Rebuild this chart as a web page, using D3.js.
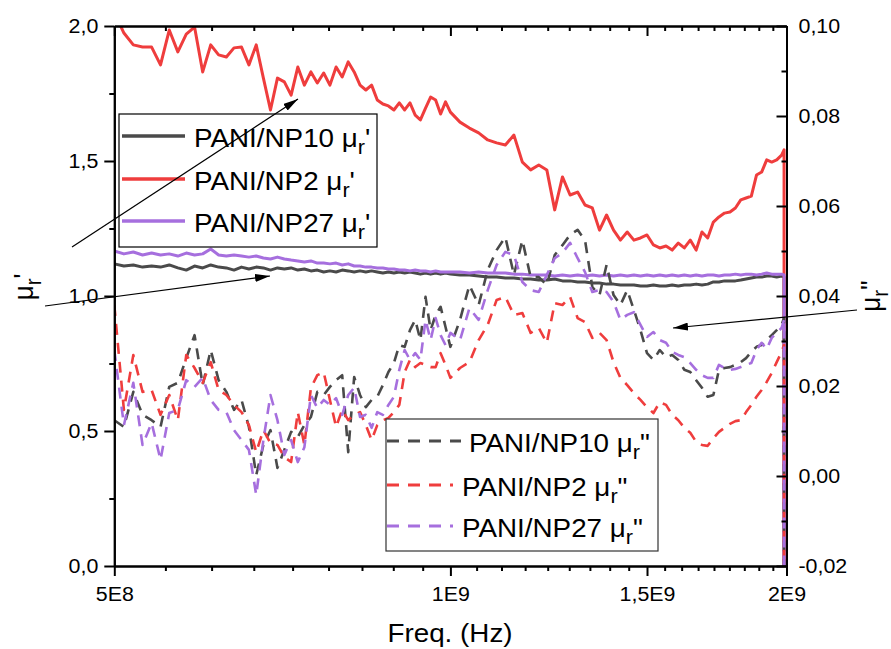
<!DOCTYPE html>
<html>
<head>
<meta charset="utf-8">
<script src="https://cdn.jsdelivr.net/npm/d3@7"></script>
<style>
  body { margin: 0; background: #fff; }
  svg text { font-family: Arial, "Liberation Sans", sans-serif; fill: #000; }
</style>
</head>
<body>
<svg id="chart" width="891" height="649"></svg>
<script>
// Frequency sweep (MHz). The last entry repeats the end frequency: the analyser's closing reading.
const freqMHz = [
  500,510,520,530,540,550,560,570,580,590,600,610,620,630,640,650,660,670,680,690,
  700,710,720,730,740,750,760,770,780,790,800,810,820,830,840,850,860,870,880,890,
  900,910,920,930,940,950,960,970,980,990,1000,
  1020,1040,1060,1080,1100,1120,1140,1160,1180,1200,1220,1240,1260,1280,1300,1320,1340,1360,1380,1400,
  1420,1440,1460,1480,1500,1520,1540,1560,1580,1600,1620,1640,1660,1680,1700,1720,1740,1760,1780,1800,
  1820,1840,1860,1880,1900,1920,1940,1960,1980,1990,
  1990
];

// Real part of relative permeability, mu_r'
const np10Real = [
  1.119,1.111,1.115,1.107,1.111,1.107,1.115,1.104,1.096,1.111,1.104,
  1.115,1.107,1.104,1.096,1.107,1.100,1.107,1.104,1.096,1.104,
  1.100,1.104,1.096,1.100,1.093,1.096,1.089,1.093,1.089,1.096,
  1.093,1.089,1.093,1.089,1.093,1.089,1.085,1.089,1.085,1.089,
  1.085,1.089,1.085,1.081,1.085,1.081,1.085,1.081,1.085,1.081,
  1.078,1.078,1.074,1.070,1.070,1.067,1.067,1.063,1.063,1.059,
  1.059,1.063,1.056,1.056,1.052,1.052,1.048,1.048,1.044,1.044,
  1.041,1.041,1.041,1.037,1.037,1.041,1.037,1.037,1.041,1.037,
  1.041,1.041,1.044,1.041,1.044,1.052,1.052,1.056,1.056,1.056,
  1.059,1.063,1.067,1.070,1.070,1.074,1.074,1.070,1.074,1.070,
  -1
];
const np2Real = [
  2.050,1.974,1.930,1.922,1.922,1.856,1.985,1.904,1.970,1.996,1.830,
  1.930,1.893,1.885,1.919,1.922,1.856,1.930,1.807,1.689,1.807,
  1.793,1.744,1.848,1.781,1.830,1.789,1.826,1.781,1.848,1.811,
  1.867,1.830,1.781,1.763,1.781,1.726,1.711,1.704,1.689,1.715,
  1.689,1.715,1.670,1.652,1.696,1.737,1.726,1.674,1.719,1.681,
  1.644,1.622,1.604,1.578,1.567,1.559,1.596,1.496,1.467,1.485,
  1.467,1.319,1.441,1.374,1.385,1.337,1.326,1.244,1.300,1.244,
  1.207,1.237,1.207,1.215,1.226,1.189,1.178,1.185,1.170,1.196,
  1.178,1.207,1.170,1.237,1.215,1.274,1.293,1.307,1.311,1.326,
  1.356,1.363,1.370,1.448,1.459,1.504,1.496,1.504,1.522,1.541,
  -1
];
const np27Real = [
  1.167,1.156,1.163,1.152,1.159,1.152,1.156,1.148,1.159,1.152,1.156,
  1.174,1.152,1.148,1.152,1.148,1.144,1.148,1.141,1.137,1.144,
  1.137,1.133,1.130,1.126,1.130,1.122,1.122,1.119,1.122,1.115,
  1.119,1.111,1.111,1.107,1.107,1.104,1.104,1.100,1.100,1.096,
  1.096,1.093,1.096,1.093,1.093,1.089,1.093,1.089,1.089,1.089,
  1.089,1.085,1.089,1.085,1.085,1.085,1.081,1.081,1.078,1.078,
  1.078,1.074,1.078,1.074,1.078,1.074,1.078,1.074,1.078,1.074,
  1.078,1.074,1.078,1.074,1.078,1.074,1.078,1.074,1.078,1.074,
  1.078,1.074,1.078,1.074,1.078,1.078,1.074,1.078,1.078,1.081,
  1.078,1.081,1.081,1.078,1.081,1.085,1.081,1.081,1.081,1.078,
  -1
];

// Imaginary part of relative permeability, mu_r''
const np10Imag = [
  0.0124,0.0109,0.0187,0.0136,0.0124,0.0109,0.0198,0.0207,0.0262,0.0313,0.0202,
  0.0280,0.0213,0.0187,0.0147,0.0169,0.0109,0.0002,0.0069,0.0102,0.0018,
  0.0058,0.0098,0.0087,0.0113,0.0131,0.0187,0.0180,0.0198,0.0213,0.0224,
  0.0053,0.0220,0.0180,0.0153,0.0169,0.0176,0.0202,0.0231,0.0251,0.0291,
  0.0287,0.0324,0.0347,0.0302,0.0398,0.0324,0.0358,0.0376,0.0331,0.0287,
  0.0347,0.0424,0.0380,0.0458,0.0502,0.0531,0.0447,0.0524,0.0442,0.0442,
  0.0424,0.0491,0.0513,0.0536,0.0547,0.0524,0.0420,0.0402,0.0469,0.0402,
  0.0380,0.0413,0.0369,0.0324,0.0273,0.0258,0.0280,0.0264,0.0269,0.0258,
  0.0236,0.0231,0.0213,0.0196,0.0176,0.0180,0.0236,0.0240,0.0242,0.0247,
  0.0253,0.0262,0.0276,0.0287,0.0291,0.0302,0.0313,0.0324,0.0336,0.0351,
  -0.05
];
const np2Imag = [
  0.0380,0.0147,0.0269,0.0187,0.0191,0.0136,0.0180,0.0124,0.0269,0.0240,0.0207,
  0.0253,0.0191,0.0180,0.0158,0.0142,0.0113,0.0053,0.0102,0.0073,0.0069,
  0.0042,0.0031,0.0142,0.0069,0.0196,0.0224,0.0231,0.0169,0.0109,0.0147,
  0.0124,0.0136,0.0142,0.0113,0.0080,0.0113,0.0124,0.0129,0.0142,0.0158,
  0.0231,0.0258,0.0242,0.0251,0.0247,0.0242,0.0242,0.0273,0.0247,0.0218,
  0.0240,0.0253,0.0302,0.0336,0.0391,0.0398,0.0358,0.0362,0.0318,0.0329,
  0.0296,0.0384,0.0380,0.0398,0.0351,0.0342,0.0307,0.0318,0.0302,0.0253,
  0.0218,0.0202,0.0184,0.0169,0.0153,0.0140,0.0164,0.0158,0.0136,0.0124,
  0.0107,0.0096,0.0076,0.0069,0.0067,0.0084,0.0098,0.0107,0.0116,0.0122,
  0.0124,0.0142,0.0158,0.0176,0.0191,0.0209,0.0229,0.0253,0.0276,0.0291,
  -0.05
];
const np27Imag = [
  0.0280,0.0113,0.0207,0.0069,0.0118,0.0036,0.0140,0.0147,0.0213,0.0198,0.0218,
  0.0169,0.0147,0.0142,0.0102,0.0080,0.0058,-0.0042,0.0080,0.0180,0.0124,
  0.0047,0.0080,0.0031,0.0064,0.0180,0.0151,0.0169,0.0158,0.0173,0.0136,
  0.0180,0.0196,0.0131,0.0136,0.0107,0.0142,0.0136,0.0158,0.0176,0.0236,
  0.0280,0.0258,0.0273,0.0258,0.0347,0.0302,0.0351,0.0313,0.0291,0.0318,
  0.0302,0.0373,0.0347,0.0413,0.0469,0.0498,0.0491,0.0431,0.0413,0.0409,
  0.0447,0.0484,0.0496,0.0518,0.0484,0.0453,0.0409,0.0413,0.0409,0.0387,
  0.0347,0.0358,0.0364,0.0336,0.0309,0.0320,0.0302,0.0296,0.0276,0.0269,
  0.0264,0.0251,0.0236,0.0224,0.0218,0.0218,0.0247,0.0240,0.0236,0.0238,
  0.0242,0.0247,0.0251,0.0280,0.0296,0.0282,0.0307,0.0318,0.0329,0.0347,
  -0.05
];

// Axis ticks and labels
const xTickValues = [5e8, 1e9, 1.5e9, 2e9];
const xTickLabels = ["5E8", "1E9", "1,5E9", "2E9"];
const yLeftTickValues = [0, 0.5, 1, 1.5, 2];
const yLeftTickLabels = ["0,0", "0,5", "1,0", "1,5", "2,0"];
const yLeftMinor = [0.25, 0.75, 1.25, 1.75];
const yRightTickValues = [-0.02, 0, 0.02, 0.04, 0.06, 0.08, 0.10];
const yRightTickLabels = ["-0,02", "0,00", "0,02", "0,04", "0,06", "0,08", "0,10"];
const yRightMinor = [-0.01, 0.01, 0.03, 0.05, 0.07, 0.09];

const sampleNames = ["PANI/NP10", "PANI/NP2", "PANI/NP27"];
const sampleColors = ["#4a4a4a", "#ef3d3d", "#a66fde"];

const FONT_STRETCH = 1.07;
const plot = { left: 114.3, right: 786.5, top: 26, bottom: 566 };

const svg = d3.select("#chart");

const x = d3.scaleLog().domain([5e8, 2e9]).range([plot.left, plot.right]);
const yL = d3.scaleLinear().domain([0, 2]).range([plot.bottom, plot.top]);
const yR = d3.scaleLinear().domain([-0.02, 0.10]).range([plot.bottom, plot.top]);

// minor ticks: eight between each pair of major ticks
const xMinor = [];
for (let m = 0; m < xTickValues.length - 1; m++) {
  const a = xTickValues[m], b = xTickValues[m + 1];
  for (let k = 1; k <= 8; k++) xMinor.push(a + (b - a) * k / 9);
}

svg.append("defs").append("clipPath").attr("id", "plotClip")
  .append("rect")
  .attr("x", plot.left).attr("y", plot.top)
  .attr("width", plot.right - plot.left).attr("height", plot.bottom - plot.top);

const marker = svg.select("defs").append("marker")
  .attr("id", "arrowHead")
  .attr("viewBox", "0 0 15 8")
  .attr("refX", 15).attr("refY", 4)
  .attr("markerWidth", 15).attr("markerHeight", 8)
  .attr("markerUnits", "userSpaceOnUse")
  .attr("orient", "auto");
marker.append("path").attr("d", "M0,0 L15,4 L0,8 Z").attr("fill", "#000");

// ---- data lines ----
const series = [
  { values: np10Real, scale: yL, color: sampleColors[0], dashed: false },
  { values: np2Real,  scale: yL, color: sampleColors[1], dashed: false },
  { values: np27Real, scale: yL, color: sampleColors[2], dashed: false },
  { values: np10Imag, scale: yR, color: sampleColors[0], dashed: true },
  { values: np2Imag,  scale: yR, color: sampleColors[1], dashed: true },
  { values: np27Imag, scale: yR, color: sampleColors[2], dashed: true }
];

const dataLayer = svg.append("g").attr("clip-path", "url(#plotClip)");
series.forEach(s => {
  const line = d3.line()
    .x((d, i) => x(freqMHz[i] * 1e6))
    .y(d => s.scale(d));
  dataLayer.append("path")
    .datum(s.values)
    .attr("d", line)
    .attr("fill", "none")
    .attr("stroke", s.color)
    .attr("stroke-width", s.dashed ? 2.6 : 3)
    .attr("stroke-linejoin", "round")
    .attr("stroke-dasharray", s.dashed ? "11,8" : null);
});

// ---- axes ----
function styleAxis(g) {
  g.attr("font-size", 20).attr("font-family", 'Arial, "Liberation Sans", sans-serif');
  g.selectAll("path,line").attr("stroke", "#000").attr("stroke-width", 2);
  return g;
}

// minor ticks
styleAxis(svg.append("g").attr("transform", `translate(0,${plot.bottom})`)
  .call(d3.axisBottom(x).tickValues(xMinor).tickSize(5).tickSizeOuter(0).tickFormat("")));
styleAxis(svg.append("g").attr("transform", `translate(0,${plot.top})`)
  .call(d3.axisTop(x).tickValues(xMinor).tickSizeInner(-5).tickSizeOuter(0).tickFormat("")));
styleAxis(svg.append("g").attr("transform", `translate(${plot.left},0)`)
  .call(d3.axisLeft(yL).tickValues(yLeftMinor).tickSize(5).tickSizeOuter(0).tickFormat("")));
styleAxis(svg.append("g").attr("transform", `translate(${plot.right},0)`)
  .call(d3.axisRight(yR).tickValues(yRightMinor).tickSizeInner(-5).tickSizeOuter(0).tickFormat("")));

// major ticks and labels
const gBottom = styleAxis(svg.append("g").attr("transform", `translate(0,${plot.bottom})`)
  .call(d3.axisBottom(x).tickValues(xTickValues).tickSize(10).tickPadding(11).tickSizeOuter(0)
    .tickFormat((d, i) => xTickLabels[i])));
gBottom.selectAll(".tick text").attr("transform", `scale(${FONT_STRETCH},1)`);

styleAxis(svg.append("g").attr("transform", `translate(0,${plot.top})`)
  .call(d3.axisTop(x).tickValues(xTickValues).tickSizeInner(-10).tickSizeOuter(0).tickFormat("")));

const gLeft = styleAxis(svg.append("g").attr("transform", `translate(${plot.left},0)`)
  .call(d3.axisLeft(yL).tickValues(yLeftTickValues).tickSize(10).tickPadding(6).tickSizeOuter(0)
    .tickFormat((d, i) => yLeftTickLabels[i])));
gLeft.selectAll(".tick text").attr("x", -16 / FONT_STRETCH).attr("transform", `scale(${FONT_STRETCH},1)`);

const gRight = styleAxis(svg.append("g").attr("transform", `translate(${plot.right},0)`)
  .call(d3.axisRight(yR).tickValues(yRightTickValues).tickSizeInner(-10).tickPadding(12).tickSizeOuter(0)
    .tickFormat((d, i) => yRightTickLabels[i])));
gRight.selectAll(".tick text").attr("x", 12 / FONT_STRETCH).attr("transform", `scale(${FONT_STRETCH},1)`);

// ---- axis titles ----
svg.append("text")
  .attr("transform", `translate(450,642) scale(${FONT_STRETCH},1)`)
  .attr("text-anchor", "middle").attr("font-size", 26)
  .text("Freq. (Hz)");

function addMu(t, before, prime, size) {
  t.append("tspan").text(before + "\u03bc");
  t.append("tspan").attr("font-size", size * 0.78).attr("dy", size * 0.27).text("r");
  t.append("tspan").attr("dy", -size * 0.27).text(prime);
}

const leftTitle = svg.append("text")
  .attr("transform", `translate(33,287) rotate(-90) scale(1,${FONT_STRETCH})`)
  .attr("font-size", 26).attr("text-anchor", "middle");
addMu(leftTitle, "", "'", 26);
const rightTitle = svg.append("text")
  .attr("transform", `translate(880,296) rotate(-90) scale(1,${FONT_STRETCH})`)
  .attr("font-size", 26).attr("text-anchor", "middle");
addMu(rightTitle, "", "''", 26);

// ---- legends ----
const legendSolid = svg.append("g");
legendSolid.append("rect")
  .attr("x", 119).attr("y", 114).attr("width", 258).attr("height", 133)
  .attr("fill", "#fff").attr("stroke", "#000").attr("stroke-width", 1.2);
const solidRows = [136, 179, 221];
sampleNames.forEach((name, i) => {
  legendSolid.append("line")
    .attr("x1", 122).attr("x2", 185).attr("y1", solidRows[i]).attr("y2", solidRows[i])
    .attr("stroke", sampleColors[i]).attr("stroke-width", 3.5);
  const t = legendSolid.append("text")
    .attr("transform", `translate(194,${solidRows[i] + 10.5}) scale(${FONT_STRETCH},1)`)
    .attr("font-size", 26);
  addMu(t, name + " ", "'", 26);
});

const legendDashed = svg.append("g");
legendDashed.append("rect")
  .attr("x", 386).attr("y", 419).attr("width", 272).attr("height", 132)
  .attr("fill", "#fff").attr("stroke", "#333").attr("stroke-width", 1.2);
const dashedRows = [441, 485, 526];
const dashedLineEnd = [461, 453, 453];
const dashedTextX = [469, 462, 462];
sampleNames.forEach((name, i) => {
  legendDashed.append("line")
    .attr("x1", 387).attr("x2", dashedLineEnd[i]).attr("y1", dashedRows[i]).attr("y2", dashedRows[i])
    .attr("stroke", sampleColors[i]).attr("stroke-width", 2.8).attr("stroke-dasharray", "12,9");
  const t = legendDashed.append("text")
    .attr("transform", `translate(${dashedTextX[i]},${dashedRows[i] + 10.5}) scale(${FONT_STRETCH},1)`)
    .attr("font-size", 26);
  addMu(t, name + " ", "\"", 26);
});

// ---- pointer arrows ----
const arrows = [
  { from: [72, 247], to: [298, 99] },
  { from: [45, 306], to: [270, 276] },
  { from: [857, 310], to: [673, 328] }
];
svg.append("g").selectAll("line").data(arrows).join("line")
  .attr("x1", d => d.from[0]).attr("y1", d => d.from[1])
  .attr("x2", d => d.to[0]).attr("y2", d => d.to[1])
  .attr("stroke", "#000").attr("stroke-width", 1.2)
  .attr("marker-end", "url(#arrowHead)");
</script>
</body>
</html>
